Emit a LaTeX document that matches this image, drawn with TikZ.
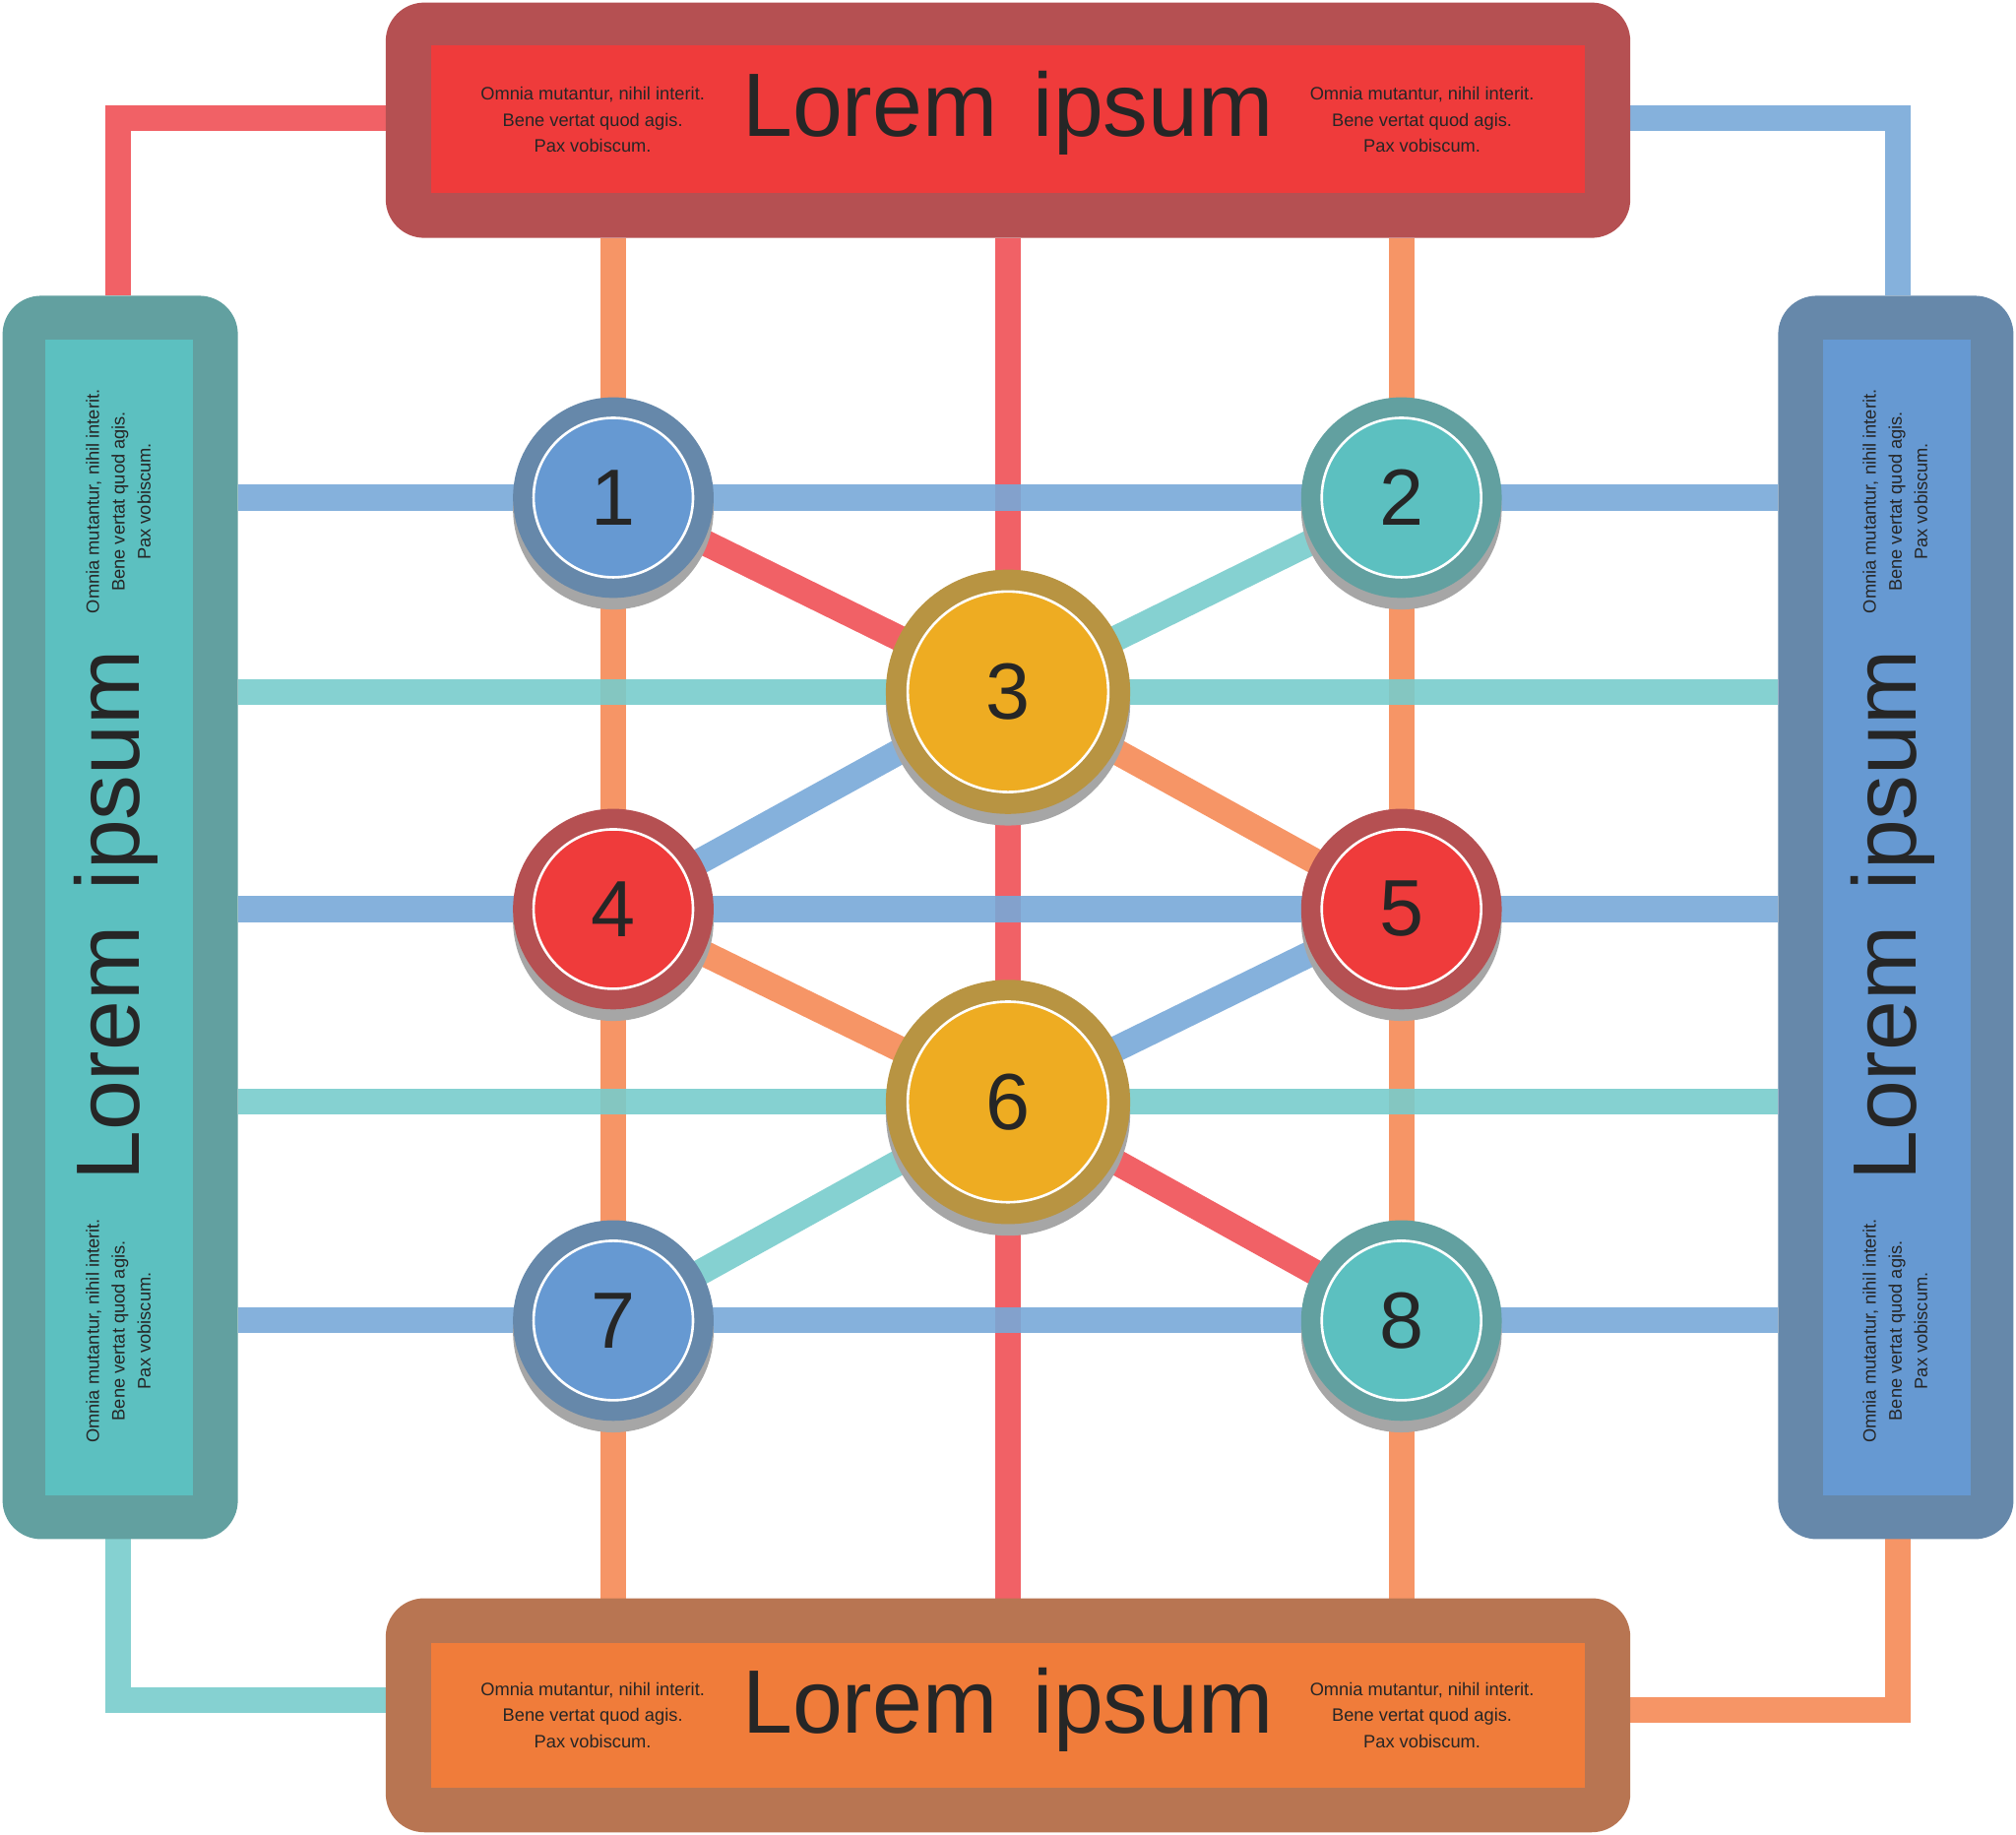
\documentclass[tikz,border=0pt]{standalone}
\usepackage{fontspec}
\setmainfont{Liberation Sans}
\definecolor{cred}{HTML}{EF3B3B}
\definecolor{cdred}{HTML}{B55052}
\definecolor{corg}{HTML}{F07C3A}
\definecolor{cdorg}{HTML}{B87552}
\definecolor{cteal}{HTML}{5CC0C0}
\definecolor{cdteal}{HTML}{62A0A0}
\definecolor{cblue}{HTML}{6699D2}
\definecolor{cdblue}{HTML}{6688AA}
\definecolor{cyel}{HTML}{EEAC22}
\definecolor{cdyel}{HTML}{B89442}
\definecolor{lred}{HTML}{F05055}
\definecolor{lorg}{HTML}{F58A55}
\definecolor{lteal}{HTML}{78CCCC}
\definecolor{lblue}{HTML}{78A8D8}
\begin{document}
\begin{tikzpicture}[x=1pt,y=-1pt,
  ln/.style={line width=20pt,opacity=0.9},
  big/.style={font=\fontsize{70}{72}\selectfont,text=black!85},
  small/.style={font=\fontsize{14}{20}\selectfont,align=center,text=black!85},
  num/.style={font=\fontsize{62}{64}\selectfont,text=black!85}]
\useasboundingbox (0,0) rectangle (1568,1427);
% corner connectors
\draw[ln,lred] (300,92) -- (92,92) -- (92,230);
\draw[ln,lblue] (1268,92) -- (1476,92) -- (1476,230);
\draw[ln,lteal] (92,1197) -- (92,1322) -- (300,1322);
\draw[ln,lorg] (1476,1197) -- (1476,1330) -- (1268,1330);
% coordinates of circles
\coordinate (c1) at (477,387); \coordinate (c2) at (1090,387);
\coordinate (c3) at (784,538); \coordinate (c4) at (477,707);
\coordinate (c5) at (1090,707); \coordinate (c6) at (784,857);
\coordinate (c7) at (477,1027); \coordinate (c8) at (1090,1027);
% vertical lines
\coordinate (t1) at (477,185); \coordinate (b1) at (477,1243);
\coordinate (t2) at (784,185); \coordinate (b2) at (784,1243);
\coordinate (t3) at (1090,185); \coordinate (b3) at (1090,1243);
\draw[ln,lorg] (t1) -- (b1);
\draw[ln,lred] (t2) -- (b2);
\draw[ln,lorg] (t3) -- (b3);
% horizontal lines
\foreach \y/\c in {387/lblue,538/lteal,707/lblue,857/lteal,1027/lblue}
  \draw[ln,\c] (185,\y) -- (1383,\y);
% diagonals
\draw[ln,lred] (c1) -- (c3);
\draw[ln,lteal] (c2) -- (c3);
\draw[ln,lblue] (c4) -- (c3);
\draw[ln,lorg] (c5) -- (c3);
\draw[ln,lorg] (c4) -- (c6);
\draw[ln,lblue] (c5) -- (c6);
\draw[ln,lteal] (c7) -- (c6);
\draw[ln,lred] (c8) -- (c6);
% boxes
\fill[cdred,rounded corners=30pt] (300,2) rectangle (1268,185);
\fill[cred] (335,35) rectangle (1233,150);
\fill[cdorg,rounded corners=30pt] (300,1243) rectangle (1268,1425);
\fill[corg] (335,1278) rectangle (1233,1390);
\fill[cdteal,rounded corners=30pt] (2,230) rectangle (185,1197);
\fill[cteal] (35,264) rectangle (150,1163);
\fill[cdblue,rounded corners=30pt] (1383,230) rectangle (1566,1197);
\fill[cblue] (1418,264) rectangle (1533,1163);
% box texts
\def\st{Omnia mutantur, nihil interit.\\Bene vertat quod agis.\\Pax vobiscum.}
\node[big] (tt) at (784,88) {Lorem\hspace{0.4em}ipsum};
\node[small] (tl) at (461,93) {\st};
\node[small] (tr) at (1106,93) {\st};
\node[big] (bt) at (784,1330) {Lorem\hspace{0.4em}ipsum};
\node[small] (bl) at (461,1334) {\st};
\node[small] (br) at (1106,1334) {\st};
\node[big,rotate=90] (lt) at (90,712) {Lorem\hspace{0.4em}ipsum};
\node[small,rotate=90] (ll1) at (92,390) {\st};
\node[small,rotate=90] (ll2) at (92,1035) {\st};
\node[big,rotate=90] (rt) at (1472,712) {Lorem\hspace{0.4em}ipsum};
\node[small,rotate=90] (rl1) at (1474,390) {\st};
\node[small,rotate=90] (rl2) at (1474,1035) {\st};
% circles
\foreach \n/\o/\i/\r/\ri in {1/cdblue/cblue/78/62,2/cdteal/cteal/78/62,3/cdyel/cyel/95/78,4/cdred/cred/78/62,5/cdred/cred/78/62,6/cdyel/cyel/95/78,7/cdblue/cblue/78/62,8/cdteal/cteal/78/62}{
  \fill[black!35] ([yshift=-9pt]c\n) circle[radius=\r];
  \fill[\o] (c\n) circle[radius=\r];
  \filldraw[fill=\i,draw=white,line width=2pt] (c\n) circle[radius=\ri];
  \node[num] (n\n) at (c\n) {\n};
}
\end{tikzpicture}
\end{document}
